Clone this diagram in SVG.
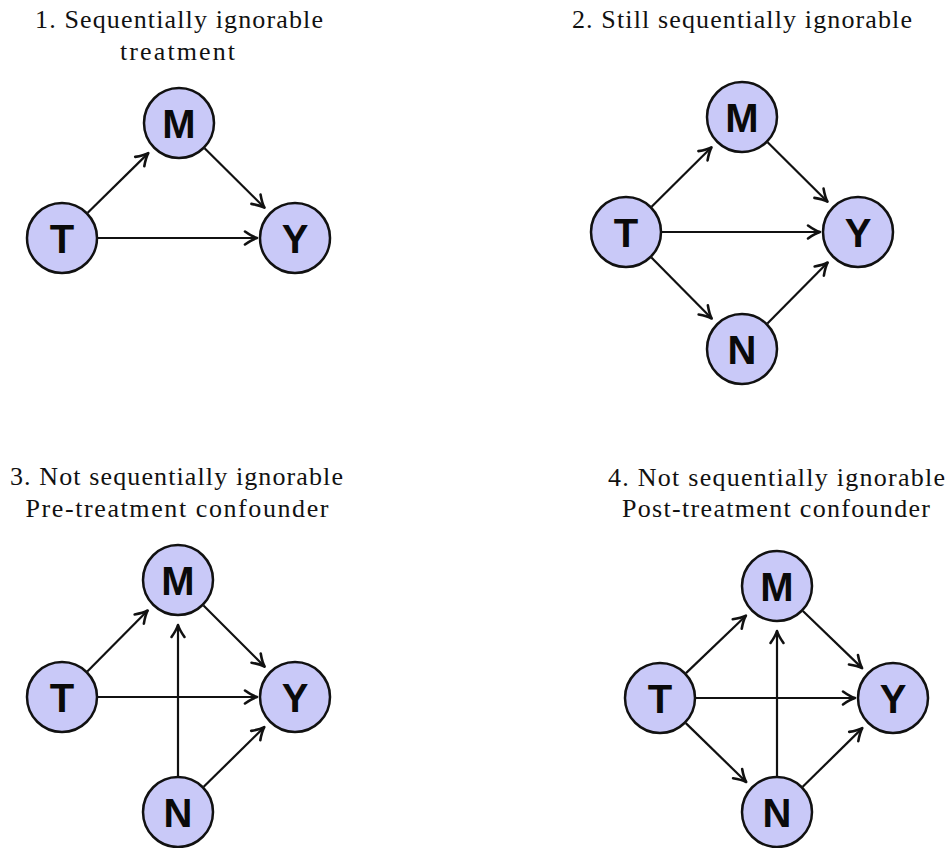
<svg xmlns="http://www.w3.org/2000/svg" width="949" height="848" viewBox="0 0 949 848">
<style>
.bg{fill:#ffffff}
.title{font-family:"Liberation Serif","Times New Roman",serif;font-size:26px;fill:#111;text-anchor:middle}
.node circle{fill:#c9c9f8;stroke:#111;stroke-width:2.5}
.node text{font-family:"Liberation Sans",Arial,sans-serif;font-weight:bold;font-size:40px;fill:#0a0a0a;text-anchor:middle}
.edges line{stroke:#111;stroke-width:2.2;marker-end:url(#arr)}
</style>
<defs>
<marker id="arr" viewBox="-15 -9 17 18" refX="0" refY="0" markerWidth="17" markerHeight="18" markerUnits="userSpaceOnUse" orient="auto" overflow="visible">
<path d="M-12,-6.5 Q-5,-1.5 0,0 Q-5,1.5 -12,6.5" fill="none" stroke="#111" stroke-width="2.6" stroke-linecap="round" stroke-linejoin="round"/>
</marker>
</defs>
<rect class="bg" x="0" y="0" width="949" height="848"/>

<g id="titles">
<text class="title" x="179" y="28" textLength="288" lengthAdjust="spacing">1. Sequentially ignorable</text>
<text class="title" x="177.5" y="60" textLength="115" lengthAdjust="spacing">treatment</text>
<text class="title" x="742" y="28" textLength="340" lengthAdjust="spacing">2. Still sequentially ignorable</text>
<text class="title" x="176.5" y="485" textLength="333" lengthAdjust="spacing">3. Not sequentially ignorable</text>
<text class="title" x="177" y="517" textLength="303" lengthAdjust="spacing">Pre-treatment confounder</text>
<text class="title" x="776.5" y="486" textLength="337" lengthAdjust="spacing">4. Not sequentially ignorable</text>
<text class="title" x="776" y="517" textLength="308" lengthAdjust="spacing">Post-treatment confounder</text>
</g>

<g id="connectors" class="edges">
<line x1="87.7" y1="212.8" x2="148.3" y2="153.1"/>
<line x1="204.6" y1="148.3" x2="264.5" y2="207.7"/>
<line x1="98" y1="238" x2="257" y2="238"/>

<line x1="651.6" y1="206.7" x2="711.5" y2="147.3"/>
<line x1="767.6" y1="142.3" x2="827.5" y2="201.7"/>
<line x1="662" y1="232" x2="820" y2="232"/>
<line x1="651.4" y1="257.6" x2="711.7" y2="318.5"/>
<line x1="767.4" y1="323.4" x2="827.7" y2="262.5"/>

<line x1="87.3" y1="671.4" x2="147.7" y2="610.5"/>
<line x1="203.5" y1="605.5" x2="264.6" y2="666.6"/>
<line x1="98" y1="697" x2="257" y2="697"/>
<line x1="178" y1="776" x2="178" y2="625"/>
<line x1="203.7" y1="786.8" x2="264.3" y2="727.1"/>

<line x1="686.0" y1="673.1" x2="745.9" y2="615.7"/>
<line x1="802.9" y1="611.0" x2="862.1" y2="668.1"/>
<line x1="696" y1="698" x2="855" y2="698"/>
<line x1="685.8" y1="723.1" x2="746.2" y2="782.0"/>
<line x1="777" y1="776" x2="777" y2="631"/>
<line x1="802.7" y1="786.8" x2="862.3" y2="728.1"/>
</g>

<g id="p1-M" class="node"><circle cx="179" cy="123" r="35"/><text x="179" y="137.5">M</text></g>
<g id="p1-T" class="node"><circle cx="62" cy="238" r="35"/><text x="62" y="252.5">T</text></g>
<g id="p1-Y" class="node"><circle cx="295" cy="238" r="35"/><text x="295" y="252.5">Y</text></g>

<g id="p2-M" class="node"><circle cx="742" cy="117" r="35"/><text x="742" y="131.5">M</text></g>
<g id="p2-T" class="node"><circle cx="626" cy="232" r="35"/><text x="626" y="246.5">T</text></g>
<g id="p2-Y" class="node"><circle cx="858" cy="232" r="35"/><text x="858" y="246.5">Y</text></g>
<g id="p2-N" class="node"><circle cx="742" cy="349" r="35"/><text x="742" y="363.5">N</text></g>

<g id="p3-M" class="node"><circle cx="178" cy="580" r="35"/><text x="178" y="594.5">M</text></g>
<g id="p3-T" class="node"><circle cx="62" cy="697" r="35"/><text x="62" y="711.5">T</text></g>
<g id="p3-Y" class="node"><circle cx="295" cy="697" r="35"/><text x="295" y="711.5">Y</text></g>
<g id="p3-N" class="node"><circle cx="178" cy="812" r="35"/><text x="178" y="826.5">N</text></g>

<g id="p4-M" class="node"><circle cx="777" cy="586" r="35"/><text x="777" y="600.5">M</text></g>
<g id="p4-T" class="node"><circle cx="660" cy="698" r="35"/><text x="660" y="712.5">T</text></g>
<g id="p4-Y" class="node"><circle cx="893" cy="698" r="35"/><text x="893" y="712.5">Y</text></g>
<g id="p4-N" class="node"><circle cx="777" cy="812" r="35"/><text x="777" y="826.5">N</text></g>
</svg>
